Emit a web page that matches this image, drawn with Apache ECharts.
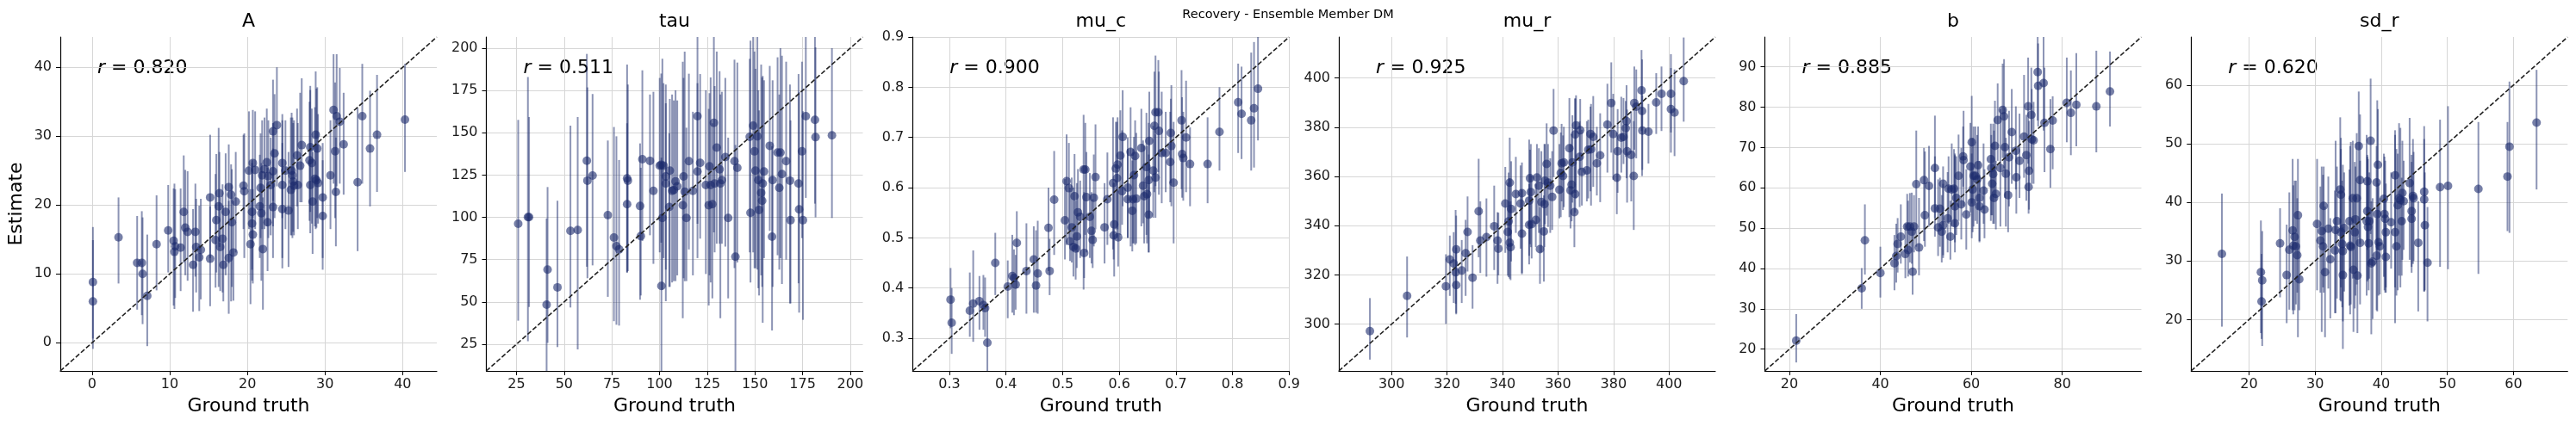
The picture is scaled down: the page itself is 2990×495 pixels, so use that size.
<!DOCTYPE html>
<html>
<head>
  <meta charset="utf-8">
  <title>Recovery - Ensemble Member DM</title>
  <script src="https://cdn.jsdelivr.net/npm/echarts@6/dist/echarts.min.js"></script>
  <style>
    html, body { margin: 0; padding: 0; background: #fff; }
    #main { width: 2990px; height: 495px; }
  </style>
</head>
<body>
  <div id="main"></div>
  <script>
    // each row: [ground truth, estimate, lower, upper]
    var ptsA = [
      [0.1, 8.8, 0.6, 16.8], [0.1, 6.0, -0.9, 14.9], [3.4, 15.3, 8.6, 21.1], [5.8, 11.6, 4.8, 18.4],
      [6.4, 11.6, 4.0, 19.1], [6.5, 10.0, 2.7, 18.2], [7.1, 6.8, -0.5, 15.7], [8.3, 14.3, 7.6, 21.4],
      [9.8, 16.3, 10.2, 22.9], [10.5, 14.8, 5.4, 22.4], [10.6, 13.2, 4.9, 23.1], [10.7, 14.0, 6.5, 22.3],
      [11.4, 13.8, 7.5, 22.4], [11.8, 19.0, 11.6, 27.2], [12.0, 16.7, 9.8, 25.1], [12.3, 16.1, 9.0, 24.9],
      [13.0, 11.3, 4.5, 19.4], [13.3, 16.1, 9.6, 23.1], [13.4, 13.9, 7.3, 20.9], [13.8, 12.4, 4.6, 19.9],
      [14.0, 13.5, 6.3, 20.9], [15.2, 21.1, 12.3, 30.2], [15.2, 12.2, 5.3, 19.8], [15.9, 14.9, 8.0, 24.5],
      [16.0, 17.8, 10.2, 27.4], [16.3, 19.8, 8.1, 31.2], [16.4, 21.7, 13.9, 27.7], [16.5, 13.9, 7.5, 21.1],
      [16.8, 15.1, 7.3, 23.0], [16.9, 11.3, 6.0, 19.9], [17.2, 19.0, 9.8, 27.5], [17.6, 22.6, 11.5, 28.8],
      [17.6, 12.3, 4.2, 20.6], [17.9, 21.5, 6.0, 25.9], [18.0, 17.5, 8.1, 25.2], [18.2, 13.1, 6.1, 20.6],
      [18.5, 20.5, 13.1, 27.7], [19.5, 22.8, 16.5, 30.2], [19.6, 22.0, 12.3, 30.4], [20.2, 25.0, 16.5, 33.6],
      [20.4, 14.3, 5.6, 22.3], [20.6, 17.3, 9.0, 26.5], [20.6, 19.0, 10.6, 26.1], [20.7, 15.7, 8.6, 22.3],
      [20.7, 26.1, 18.1, 33.8], [21.0, 25.1, 16.5, 33.6], [21.6, 19.8, 12.3, 27.3], [21.7, 22.5, 15.2, 30.4],
      [21.8, 18.8, 9.0, 26.1], [21.9, 24.3, 16.5, 32.3], [22.0, 13.6, 4.8, 21.1], [22.2, 25.2, 16.5, 32.7],
      [22.5, 26.2, 16.9, 34.0], [22.6, 17.5, 10.4, 25.4], [22.7, 24.2, 15.2, 32.3], [23.0, 22.9, 15.6, 29.8],
      [23.3, 24.9, 16.9, 31.9], [23.3, 19.7, 12.3, 28.2], [23.3, 30.7, 20.6, 38.2], [23.5, 27.5, 18.1, 36.1],
      [23.8, 31.6, 22.7, 40.0], [24.5, 26.1, 18.1, 33.2], [24.5, 22.9, 12.3, 32.3], [24.5, 19.4, 10.8, 29.0],
      [24.9, 25.0, 16.5, 32.3], [25.3, 19.2, 11.0, 27.7], [25.6, 22.2, 15.6, 32.7], [25.7, 25.0, 15.6, 33.4],
      [25.8, 24.3, 15.2, 32.7], [25.9, 23.4, 16.1, 31.9], [26.0, 22.8, 15.6, 32.3], [26.5, 22.9, 16.5, 31.9],
      [26.4, 27.2, 19.8, 34.0], [26.8, 25.7, 20.4, 36.3], [27.0, 28.7, 20.4, 38.4], [28.0, 26.5, 17.7, 35.0],
      [28.1, 22.9, 15.9, 36.7], [28.3, 26.1, 17.3, 34.0], [28.1, 28.4, 19.0, 37.3], [28.4, 20.5, 12.9, 27.7],
      [28.7, 23.8, 16.9, 34.2], [28.8, 30.2, 16.5, 39.4], [28.9, 23.6, 16.7, 36.9], [29.0, 28.2, 18.1, 37.1],
      [29.1, 23.2, 17.3, 33.2], [29.7, 21.1, 12.3, 29.0], [29.7, 18.4, 10.6, 26.5], [30.7, 24.3, 16.5, 32.3],
      [31.1, 33.8, 23.1, 41.9], [31.3, 27.8, 18.1, 37.8], [31.5, 32.9, 22.7, 41.9], [31.4, 21.9, 14.0, 29.8],
      [31.9, 32.1, 23.1, 39.9], [32.4, 28.8, 21.5, 36.3], [34.2, 23.3, 13.3, 34.1], [34.8, 32.9, 23.1, 40.5],
      [35.8, 28.2, 19.8, 36.6], [36.7, 30.2, 21.9, 38.9], [40.3, 32.4, 24.8, 40.5]
    ];

    var ptsTau = [
      [25.9, 96.2, 38.9, 157.6], [31.0, 100.1, 26.7, 183.0], [31.6, 100.1, 47.0, 159.3], [40.8, 48.4, 5, 99.3],
      [41.3, 69.1, 25.8, 117.9], [46.5, 58.6, 23.3, 109.8], [53.3, 92.0, 46.7, 154.2], [57.1, 92.5, 21.9, 159.3],
      [61.9, 133.5, 70.8, 196.6], [62.2, 121.7, 64.0, 176.8], [64.9, 124.7, 71.6, 172.9], [72.9, 101.3, 53.0, 145.4],
      [76.1, 88.1, 38.6, 153.4], [77.4, 83.0, 36.5, 147.9], [78.8, 81.0, 36.0, 133.9], [83.0, 123.0, 67.4, 190.3],
      [83.0, 107.8, 67.4, 155.6], [83.4, 121.7, 68.2, 178.5], [89.8, 106.7, 51.3, 143.7], [90.2, 88.9, 53.8, 129.3],
      [91.0, 134.4, 86.0, 186.9], [95.0, 133.4, 89.4, 172.6], [96.8, 115.7, 72.5, 174.2], [100.1, 130.5, 79.3, 182.4],
      [100.9, 131.0, 85.0, 185.0], [101.0, 59.4, 5, 135.2], [101.5, 99.6, 57.2, 193.7], [102.1, 130.6, 75.9, 179.3],
      [103.3, 124.2, 69.1, 178.5], [103.3, 120.0, 50.4, 167.4], [105.4, 127.6, 58.9, 170.0], [105.1, 106.1, 58.9, 149.6],
      [106.6, 115.7, 61.5, 172.6], [107.5, 116.2, 62.3, 169.1], [108.4, 121.3, 62.3, 175.1], [109.3, 118.3, 65.7, 169.1],
      [112.2, 107.2, 40.3, 192.0], [112.6, 124.2, 64.0, 182.4], [113.2, 115.2, 62.3, 198.0], [114.1, 99.6, 62.3, 153.0],
      [115.4, 133.2, 81.0, 184.9], [117.5, 115.7, 65.7, 162.4], [119.9, 159.8, 96.2, 210], [119.9, 127.1, 75.9, 179.3],
      [121.3, 132.2, 87.4, 184.7], [124.3, 119.1, 66.5, 175.1], [125.8, 107.2, 47.9, 164.1], [126.2, 130.1, 65.7, 173.4],
      [126.8, 119.1, 61.5, 182.7], [127.7, 107.8, 52.1, 155.6], [128.5, 155.9, 91.1, 210], [128.9, 120.0, 79.3, 177.6],
      [130.0, 141.2, 84.4, 198.0], [131.5, 128.4, 84.4, 186.4], [131.9, 120.0, 40.3, 172.6], [132.7, 122.0, 84.4, 174.2],
      [134.5, 135.6, 82.7, 182.4], [136.0, 99.6, 52.1, 147.1], [139.3, 133.2, 70.0, 193.2], [139.8, 76.7, 5, 142.8],
      [140.8, 129.3, 73.3, 191.5], [147.7, 102.7, 61.5, 204.4], [147.3, 147.6, 79.3, 193.7], [149.1, 154.2, 79.3, 210],
      [149.8, 139.0, 69.9, 198.0], [150.3, 127.6, 69.9, 187.8], [151.3, 147.9, 69.1, 210], [151.8, 122.0, 58.1, 175.1],
      [152.2, 104.4, 53.8, 163.2], [153.3, 114.5, 65.7, 190.3], [154.1, 120.0, 37.7, 183.6], [153.8, 109.8, 58.9, 182.7],
      [154.8, 127.1, 75.9, 181.0], [157.8, 142.3, 92.0, 189.5], [159.0, 88.6, 33.1, 142.0], [159.3, 122.0, 58.9, 181.0],
      [161.9, 138.3, 77.6, 194.6], [162.8, 117.4, 69.1, 172.6], [163.4, 138.3, 75.9, 200.0], [164.2, 125.6, 60.6, 195.5],
      [166.4, 133.2, 75.0, 192.0], [168.4, 121.7, 49.1, 178.5], [168.7, 98.3, 49.1, 157.3], [172.9, 120.0, 61.0, 184.7],
      [173.2, 104.7, 43.7, 174.2], [174.7, 139.0, 87.7, 192.0], [175.2, 98.3, 39.4, 162.7], [176.7, 159.8, 111.5, 210],
      [181.5, 157.6, 108.1, 210], [181.8, 147.4, 100.0, 200.5], [190.4, 148.5, 99.6, 200.0]
    ];

    var ptsMuC = [
      [0.302, 0.377, 0.320, 0.440], [0.304, 0.331, 0.269, 0.400], [0.336, 0.355, 0.303, 0.431], [0.342, 0.369, 0.293, 0.475],
      [0.353, 0.374, 0.317, 0.424], [0.360, 0.366, 0.317, 0.426], [0.363, 0.360, 0.303, 0.421], [0.367, 0.291, 0.230, 0.369],
      [0.381, 0.450, 0.386, 0.510], [0.403, 0.403, 0.340, 0.455], [0.411, 0.424, 0.351, 0.506], [0.414, 0.420, 0.346, 0.477],
      [0.417, 0.407, 0.357, 0.466], [0.419, 0.490, 0.400, 0.553], [0.436, 0.434, 0.349, 0.529], [0.449, 0.457, 0.351, 0.523],
      [0.453, 0.405, 0.351, 0.515], [0.456, 0.429, 0.349, 0.534], [0.475, 0.520, 0.434, 0.600], [0.477, 0.434, 0.386, 0.498],
      [0.485, 0.576, 0.466, 0.673], [0.504, 0.535, 0.457, 0.617], [0.507, 0.613, 0.486, 0.706], [0.511, 0.599, 0.500, 0.689],
      [0.513, 0.493, 0.454, 0.600], [0.516, 0.521, 0.451, 0.620], [0.519, 0.482, 0.423, 0.600], [0.521, 0.583, 0.477, 0.667],
      [0.523, 0.479, 0.417, 0.574], [0.525, 0.503, 0.440, 0.609], [0.527, 0.551, 0.471, 0.637], [0.531, 0.542, 0.460, 0.614],
      [0.537, 0.636, 0.397, 0.745], [0.540, 0.636, 0.506, 0.729], [0.538, 0.470, 0.420, 0.591], [0.542, 0.581, 0.471, 0.671],
      [0.548, 0.542, 0.460, 0.629], [0.551, 0.514, 0.449, 0.591], [0.553, 0.496, 0.440, 0.577], [0.555, 0.580, 0.483, 0.666],
      [0.558, 0.621, 0.517, 0.726], [0.574, 0.521, 0.449, 0.609], [0.579, 0.577, 0.486, 0.670], [0.589, 0.609, 0.477, 0.740],
      [0.591, 0.527, 0.423, 0.611], [0.590, 0.505, 0.457, 0.609], [0.594, 0.638, 0.517, 0.731], [0.597, 0.646, 0.517, 0.740],
      [0.596, 0.619, 0.500, 0.731], [0.598, 0.501, 0.443, 0.594], [0.602, 0.664, 0.506, 0.754], [0.605, 0.593, 0.526, 0.714],
      [0.606, 0.701, 0.563, 0.794], [0.615, 0.600, 0.500, 0.700], [0.615, 0.577, 0.500, 0.677], [0.620, 0.671, 0.483, 0.760],
      [0.623, 0.554, 0.473, 0.654], [0.624, 0.577, 0.489, 0.677], [0.626, 0.625, 0.489, 0.701], [0.628, 0.663, 0.486, 0.734],
      [0.630, 0.578, 0.489, 0.709], [0.639, 0.679, 0.523, 0.757], [0.642, 0.604, 0.529, 0.694], [0.644, 0.583, 0.489, 0.683],
      [0.648, 0.641, 0.506, 0.749], [0.649, 0.587, 0.489, 0.683], [0.652, 0.615, 0.471, 0.729], [0.652, 0.546, 0.471, 0.666],
      [0.653, 0.693, 0.540, 0.791], [0.660, 0.634, 0.540, 0.723], [0.662, 0.723, 0.591, 0.831], [0.664, 0.750, 0.603, 0.863],
      [0.664, 0.620, 0.540, 0.706], [0.669, 0.750, 0.631, 0.854], [0.670, 0.713, 0.586, 0.831], [0.675, 0.669, 0.569, 0.791],
      [0.682, 0.669, 0.591, 0.751], [0.690, 0.651, 0.571, 0.751], [0.691, 0.709, 0.609, 0.777], [0.692, 0.683, 0.563, 0.804],
      [0.696, 0.610, 0.489, 0.731], [0.710, 0.734, 0.597, 0.834], [0.711, 0.667, 0.580, 0.780], [0.713, 0.659, 0.574, 0.751],
      [0.718, 0.700, 0.591, 0.813], [0.725, 0.647, 0.563, 0.720], [0.756, 0.647, 0.569, 0.740], [0.777, 0.711, 0.634, 0.800],
      [0.810, 0.770, 0.669, 0.847], [0.816, 0.747, 0.657, 0.841], [0.833, 0.734, 0.634, 0.869], [0.838, 0.758, 0.640, 0.890],
      [0.845, 0.797, 0.694, 0.905]
    ];

    var ptsMuR = [
      [292.2, 297.2, 285.6, 310.6], [305.6, 311.5, 294.6, 327.5], [319.6, 315.4, 300.1, 328.4], [321.0, 326.3, 311.5, 336.0],
      [322.4, 324.6, 308.6, 337.4], [323.1, 321.1, 308.3, 346.4], [323.3, 330.4, 304.5, 344.1], [323.3, 315.9, 304.0, 331.1],
      [325.3, 321.8, 308.6, 334.2], [326.7, 328.8, 311.5, 342.4], [327.4, 337.5, 321.4, 351.9], [329.2, 318.9, 306.3, 332.1],
      [331.4, 345.9, 327.2, 367.2], [332.0, 334.0, 320.8, 349.9], [334.2, 335.4, 319.3, 351.1], [337.0, 339.8, 322.0, 356.3],
      [338.2, 334.0, 316.4, 345.5], [338.5, 330.7, 319.9, 345.3], [341.0, 349.0, 329.0, 363.9], [341.9, 337.5, 319.7, 357.5],
      [342.2, 341.8, 319.1, 361.6], [342.6, 357.5, 336.0, 375.8], [342.6, 333.1, 318.5, 359.3], [342.9, 331.3, 317.9, 349.9],
      [343.1, 346.8, 325.5, 366.2], [344.8, 352.9, 337.1, 368.0], [346.5, 349.0, 330.7, 364.5], [347.0, 353.2, 320.3, 365.7],
      [347.0, 336.8, 320.8, 354.6], [349.6, 350.2, 324.3, 375.0], [349.9, 359.3, 332.5, 370.9], [349.6, 340.4, 327.8, 356.9],
      [350.2, 353.7, 331.3, 373.2], [350.5, 340.6, 326.7, 360.4], [352.0, 342.4, 331.3, 356.9], [352.4, 359.6, 340.6, 373.2],
      [353.1, 356.3, 337.1, 371.5], [353.5, 330.5, 316.4, 347.6], [354.0, 349.6, 329.2, 370.3], [354.9, 337.7, 317.3, 352.3],
      [355.1, 348.8, 331.3, 373.2], [355.3, 358.3, 340.6, 373.2], [355.9, 365.1, 344.1, 381.6], [356.4, 357.5, 339.5, 373.2],
      [357.2, 356.3, 337.1, 367.4], [357.9, 351.7, 338.3, 370.3], [358.4, 378.7, 359.8, 395.6], [360.5, 354.6, 343.0, 373.2],
      [361.0, 361.4, 343.5, 377.9], [361.3, 365.4, 349.9, 381.4], [361.8, 360.2, 346.4, 376.7], [362.1, 365.7, 347.6, 380.2],
      [364.1, 371.5, 343.5, 391.9], [364.5, 354.4, 338.9, 373.2], [364.9, 356.7, 341.8, 377.3], [365.2, 365.7, 349.4, 384.9],
      [365.9, 345.5, 331.3, 364.1], [366.2, 352.9, 345.3, 391.5], [366.2, 377.1, 353.4, 391.9], [366.5, 380.8, 351.1, 393.0],
      [368.0, 378.8, 362.7, 391.5], [367.8, 368.0, 347.6, 382.5], [368.6, 361.9, 348.2, 379.0], [370.4, 362.5, 349.9, 382.5],
      [370.9, 370.9, 351.1, 383.1], [371.7, 377.3, 354.0, 388.4], [371.9, 371.1, 348.2, 389.5], [372.7, 376.1, 355.8, 392.7],
      [374.0, 365.4, 352.3, 380.2], [375.2, 368.6, 349.6, 385.7], [377.8, 381.1, 361.6, 397.7], [379.2, 389.9, 369.7, 406.4],
      [379.9, 377.3, 358.7, 393.6], [381.2, 359.5, 344.7, 377.9], [381.5, 370.3, 353.4, 387.4], [382.8, 375.8, 361.6, 392.4],
      [383.6, 376.1, 365.1, 391.9], [384.4, 379.6, 368.0, 390.7], [384.7, 382.5, 359.3, 397.1], [384.9, 370.3, 349.4, 387.2],
      [386.4, 368.8, 349.9, 386.6], [387.3, 360.2, 338.3, 382.5], [387.5, 389.9, 370.9, 404.7], [388.2, 388.4, 367.4, 403.5],
      [390.1, 395.0, 378.5, 411.4], [390.3, 386.6, 360.2, 407.6], [390.4, 378.7, 362.7, 393.0], [392.6, 378.2, 365.3, 389.5],
      [395.4, 390.1, 377.3, 402.0], [397.3, 393.6, 378.5, 404.7], [400.7, 393.6, 377.9, 409.7], [400.7, 387.4, 369.7, 404.1],
      [402.0, 386.0, 368.3, 403.5], [405.3, 398.8, 382.3, 416.5]
    ];

    var ptsB = [
      [21.5, 22.1, 16.7, 28.7], [35.9, 35.1, 30.0, 40.1], [36.6, 47.0, 38.5, 55.9], [40.0, 38.9, 32.8, 45.4],
      [43.1, 41.3, 34.6, 48.3], [43.5, 43.1, 36.5, 51.1], [43.8, 46.1, 39.0, 52.5], [44.5, 47.9, 41.2, 55.9],
      [45.5, 43.6, 37.6, 51.1], [45.9, 50.4, 44.0, 58.5], [46.1, 44.6, 38.0, 56.8], [46.5, 50.4, 41.5, 58.7],
      [46.9, 49.1, 41.2, 58.8], [47.1, 39.2, 33.5, 49.7], [47.4, 50.4, 44.0, 58.2], [47.9, 60.9, 45.4, 74.2],
      [48.5, 45.2, 38.3, 57.5], [49.6, 61.9, 46.8, 69.9], [49.8, 53.2, 45.4, 69.0], [50.7, 60.5, 50.4, 70.4],
      [52.0, 64.9, 52.5, 77.9], [52.0, 54.9, 47.9, 67.8], [52.7, 50.2, 43.1, 62.1], [53.1, 54.8, 45.4, 62.5],
      [53.5, 49.1, 41.5, 58.2], [53.8, 61.0, 43.3, 65.3], [53.8, 50.7, 42.6, 61.0], [54.8, 52.4, 44.0, 63.9],
      [55.0, 59.8, 51.1, 67.8], [55.4, 47.9, 42.2, 56.8], [55.7, 59.6, 50.4, 71.0], [56.2, 59.8, 50.4, 69.6],
      [56.4, 55.4, 46.5, 68.5], [56.4, 51.2, 44.0, 68.1], [56.7, 57.5, 48.3, 67.8], [57.2, 63.0, 51.8, 73.2],
      [57.8, 55.9, 47.2, 69.9], [58.2, 67.8, 60.3, 75.2], [58.3, 66.9, 55.4, 79.1], [58.9, 53.4, 44.7, 64.6],
      [59.8, 65.3, 53.9, 76.1], [60.1, 71.3, 56.1, 82.8], [60.1, 56.4, 47.5, 68.5], [60.3, 59.6, 49.0, 72.4],
      [60.5, 63.0, 50.4, 75.2], [60.9, 63.0, 51.8, 75.2], [61.3, 62.1, 51.1, 73.1], [61.5, 65.6, 54.6, 75.2],
      [61.8, 57.5, 46.8, 66.7], [61.8, 55.4, 46.5, 63.2], [62.7, 59.3, 51.1, 71.0], [62.9, 54.6, 47.5, 64.6],
      [64.3, 67.1, 51.8, 75.9], [64.4, 64.9, 53.2, 73.1], [64.6, 61.0, 53.2, 71.0], [64.8, 63.4, 51.1, 75.9],
      [65.0, 57.5, 51.1, 74.2], [65.2, 70.4, 58.2, 81.6], [65.4, 58.5, 49.7, 66.7], [65.8, 76.8, 66.7, 85.9],
      [66.4, 64.9, 50.4, 79.5], [66.9, 79.3, 67.4, 90.8], [67.2, 77.7, 64.9, 91.9], [67.4, 70.1, 57.5, 79.8],
      [67.6, 63.5, 50.4, 72.4], [68.1, 58.2, 49.0, 68.1], [68.3, 67.6, 55.4, 79.1], [68.9, 73.8, 61.0, 84.5],
      [69.8, 69.2, 59.6, 80.2], [69.9, 62.6, 53.6, 69.6], [70.6, 66.7, 57.5, 78.4], [71.6, 72.7, 62.5, 88.0],
      [72.1, 68.1, 56.8, 78.1], [72.5, 80.2, 66.0, 92.3], [72.7, 64.2, 54.6, 76.6], [72.6, 60.2, 53.6, 67.4],
      [73.2, 78.1, 64.6, 89.8], [73.3, 72.0, 61.0, 84.5], [73.7, 71.8, 61.0, 81.3], [74.6, 88.7, 76.7, 99.0],
      [74.7, 85.3, 75.2, 95.8], [75.9, 86.0, 74.2, 99.0], [76.1, 76.1, 63.9, 89.8], [77.4, 69.6, 60.0, 82.0],
      [77.9, 76.7, 64.6, 82.7], [81.0, 81.1, 71.3, 92.3], [81.9, 78.6, 68.1, 89.1], [83.1, 80.6, 70.3, 93.4],
      [87.5, 80.2, 68.8, 94.0], [90.5, 83.9, 75.2, 93.8]
    ];

    var ptsSdR = [
      [15.9, 31.2, 18.8, 41.5], [21.8, 28.1, 17.7, 36.9], [22.0, 26.7, 15.5, 35.1], [21.9, 23.1, 16.7, 31.2],
      [24.7, 33.0, 23.8, 39.0], [25.7, 27.6, 19.4, 36.2], [26.1, 31.9, 21.7, 41.7], [26.6, 35.2, 21.6, 47.4],
      [26.7, 32.6, 20.9, 42.9], [26.9, 34.1, 21.6, 43.7], [27.1, 32.5, 22.6, 43.7], [27.3, 31.0, 24.6, 40.7],
      [27.4, 37.8, 17.0, 47.4], [27.6, 26.9, 21.6, 37.3], [30.3, 36.3, 25.0, 47.4], [30.8, 33.5, 24.6, 42.7],
      [31.0, 35.1, 17.9, 46.1], [31.2, 32.5, 25.5, 44.7], [31.3, 39.4, 24.6, 46.1], [31.5, 28.1, 17.0, 39.3],
      [32.0, 35.5, 25.3, 44.4], [32.3, 30.3, 20.2, 37.3], [33.0, 31.8, 21.1, 42.0], [33.1, 35.3, 21.1, 50.5],
      [33.3, 36.8, 23.6, 46.1], [33.8, 42.2, 23.3, 54.5], [33.9, 41.3, 25.5, 51.0], [33.9, 34.9, 23.1, 49.1],
      [34.1, 32.9, 22.1, 43.7], [34.2, 31.7, 15.0, 46.4], [34.2, 27.6, 19.7, 35.8], [34.4, 35.6, 24.8, 45.1],
      [35.2, 36.8, 22.4, 45.6], [35.3, 32.6, 20.9, 49.6], [35.4, 32.4, 22.6, 50.3], [35.7, 40.7, 27.0, 50.5],
      [35.8, 28.5, 17.9, 40.0], [36.0, 34.9, 21.9, 46.9], [36.1, 37.1, 24.1, 46.1], [36.3, 40.7, 26.0, 51.8],
      [36.4, 27.5, 17.7, 36.3], [36.6, 49.6, 33.9, 58.9], [36.8, 33.1, 22.6, 47.1], [36.8, 43.8, 32.9, 55.0],
      [37.8, 36.8, 24.1, 51.5], [37.9, 43.6, 31.9, 47.8], [37.9, 38.5, 26.5, 48.1], [38.0, 35.8, 26.8, 47.4],
      [38.1, 33.0, 25.0, 44.2], [38.2, 36.8, 27.0, 45.1], [38.4, 50.5, 34.6, 61.1], [38.5, 29.6, 17.5, 40.2],
      [38.7, 29.9, 20.1, 40.7], [39.3, 30.9, 21.6, 37.3], [39.3, 43.4, 31.7, 49.6], [39.4, 38.0, 21.4, 57.4],
      [39.5, 46.4, 31.9, 55.9], [39.6, 33.2, 24.1, 43.2], [39.8, 32.5, 24.3, 40.7], [40.4, 40.6, 27.3, 48.3],
      [40.5, 38.0, 25.0, 47.8], [40.6, 37.2, 24.6, 47.1], [40.7, 34.9, 25.5, 43.2], [40.7, 30.7, 24.6, 36.3],
      [41.5, 36.6, 28.7, 45.1], [42.1, 44.6, 19.4, 52.3], [42.1, 34.9, 25.5, 51.5], [42.3, 32.5, 24.1, 49.1],
      [42.5, 39.5, 25.0, 48.3], [42.7, 40.7, 27.5, 53.5], [42.9, 40.4, 25.5, 52.7], [43.1, 36.8, 27.5, 44.2],
      [43.2, 41.6, 30.2, 50.5], [43.4, 40.2, 31.9, 47.1], [44.3, 43.3, 30.2, 54.4], [44.6, 38.5, 28.0, 48.1],
      [44.6, 37.2, 29.0, 46.9], [44.8, 41.1, 29.5, 50.8], [44.9, 40.7, 30.0, 48.6], [45.6, 33.1, 21.4, 40.2],
      [46.5, 41.8, 24.8, 53.0], [46.5, 40.5, 24.8, 50.8], [46.6, 36.1, 25.0, 45.1], [47.0, 29.7, 19.7, 39.2],
      [48.9, 42.6, 29.0, 54.1], [50.1, 42.8, 28.6, 56.4], [54.7, 42.3, 27.8, 53.7], [59.1, 44.4, 35.1, 53.7],
      [59.4, 49.5, 34.8, 60.6], [63.5, 53.6, 42.2, 62.6]
    ];

    var names = ['A', 'tau', 'mu_c', 'mu_r', 'b', 'sd_r'];
    var rValues = ['0.820', '0.511', '0.900', '0.925', '0.885', '0.620'];

    // axis limits (shared by x and y in each panel)
    var limA = [-4.1, 44.4];
    var limTau = [9.2, 206.6];
    var limMuC = [0.235, 0.9];
    var limMuR = [281.0, 416.7];
    var limB = [14.6, 97.4];
    var limSdR = [11.25, 68.2];

    // tick labels
    var ticksA = [0, 10, 20, 30, 40];
    var ticksTau = [25, 50, 75, 100, 125, 150, 175, 200];
    var ticksMuC = [0.3, 0.4, 0.5, 0.6, 0.7, 0.8, 0.9];
    var ticksMuR = [300, 320, 340, 360, 380, 400];
    var ticksBx = [20, 40, 60, 80];
    var ticksBy = [20, 30, 40, 50, 60, 70, 80, 90];
    var ticksSdR = [20, 30, 40, 50, 60];

    var panels = [
      { pts: ptsA, lim: limA, xt: ticksA, yt: ticksA },
      { pts: ptsTau, lim: limTau, xt: ticksTau, yt: ticksTau },
      { pts: ptsMuC, lim: limMuC, xt: ticksMuC, yt: ticksMuC },
      { pts: ptsMuR, lim: limMuR, xt: ticksMuR, yt: ticksMuR },
      { pts: ptsB, lim: limB, xt: ticksBx, yt: ticksBy },
      { pts: ptsSdR, lim: limSdR, xt: ticksSdR, yt: ticksSdR }
    ];

    var FONT = 'DejaVu Sans';
    var NAVY = '#1a2a6c';
    var gridLefts = [70, 564.5, 1059.3, 1554, 2048.5, 2543.3];
    var gridW = 437, gridTop = 43, gridH = 388;

    function axisCommon(ticks, lim) {
      return {
        type: 'value',
        min: lim[0],
        max: lim[1],
        axisLine: { show: true, onZero: false, lineStyle: { color: '#000', width: 1.2 } },
        axisTick: { show: true, length: 5, customValues: ticks, lineStyle: { color: '#000', width: 1 } },
        axisLabel: { customValues: ticks, color: '#1a1a1a', fontFamily: FONT, fontSize: 16 },
        splitLine: { show: true, lineStyle: { color: '#d6d6d6', width: 1 } }
      };
    }

    var grids = [], xAxes = [], yAxes = [], series = [], graphics = [];

    panels.forEach(function (p, i) {
      grids.push({ left: gridLefts[i], top: gridTop, width: gridW, height: gridH });

      var xa = axisCommon(p.xt, p.lim);
      xa.gridIndex = i;
      xa.name = 'Ground truth';
      xa.nameLocation = 'middle';
      xa.nameGap = 30;
      xa.nameTextStyle = { fontFamily: FONT, fontSize: 22, color: '#000' };
      xa.axisLabel.margin = 8;
      xAxes.push(xa);

      var ya = axisCommon(p.yt, p.lim);
      ya.gridIndex = i;
      ya.axisLabel.margin = 10;
      if (i === 0) {
        ya.name = 'Estimate';
        ya.nameLocation = 'middle';
        ya.nameGap = 40;
        ya.nameTextStyle = { fontFamily: FONT, fontSize: 22, color: '#000' };
      }
      yAxes.push(ya);

      // error bars
      series.push({
        type: 'custom',
        xAxisIndex: i,
        yAxisIndex: i,
        clip: true,
        silent: true,
        encode: { x: 0, y: [1, 2] },
        data: p.pts.map(function (d) { return [d[0], d[2], d[3]]; }),
        renderItem: function (params, api) {
          var a = api.coord([api.value(0), api.value(1)]);
          var b = api.coord([api.value(0), api.value(2)]);
          return {
            type: 'line',
            shape: { x1: a[0], y1: a[1], x2: b[0], y2: b[1] },
            style: { stroke: NAVY, lineWidth: 2, opacity: 0.5 }
          };
        }
      });

      // estimates
      series.push({
        type: 'scatter',
        xAxisIndex: i,
        yAxisIndex: i,
        symbolSize: 10,
        silent: true,
        itemStyle: { color: NAVY, opacity: 0.6 },
        data: p.pts.map(function (d) { return [d[0], d[1]]; })
      });

      // identity line
      series.push({
        type: 'line',
        xAxisIndex: i,
        yAxisIndex: i,
        symbol: 'none',
        silent: true,
        lineStyle: { color: '#222', width: 1.6, type: [5.5, 2.5] },
        data: [[p.lim[0], p.lim[0]], [p.lim[1], p.lim[1]]],
        z: 5
      });

      graphics.push({
        type: 'text',
        x: gridLefts[i] + gridW / 2,
        y: 25,
        style: { text: names[i], font: '22px "DejaVu Sans"', fill: '#000', textAlign: 'center', textVerticalAlign: 'middle' }
      });
      graphics.push({
        type: 'text',
        x: gridLefts[i] + 43,
        y: 79,
        style: {
          text: '{i|r} = ' + rValues[i],
          font: '22px "DejaVu Sans"',
          fill: '#000',
          textVerticalAlign: 'middle',
          rich: { i: { fontStyle: 'italic', fontFamily: FONT, fontSize: 22 } }
        }
      });
    });

    graphics.push({
      type: 'text',
      x: 1495,
      y: 17,
      style: { text: 'Recovery - Ensemble Member DM', font: '14.5px "DejaVu Sans"', fill: '#000', textAlign: 'center', textVerticalAlign: 'middle' }
    });

    var chart = echarts.init(document.getElementById('main'), null, { renderer: 'canvas' });
    chart.setOption({
      animation: false,
      backgroundColor: '#fff',
      grid: grids,
      xAxis: xAxes,
      yAxis: yAxes,
      series: series,
      graphic: graphics
    });
  </script>
